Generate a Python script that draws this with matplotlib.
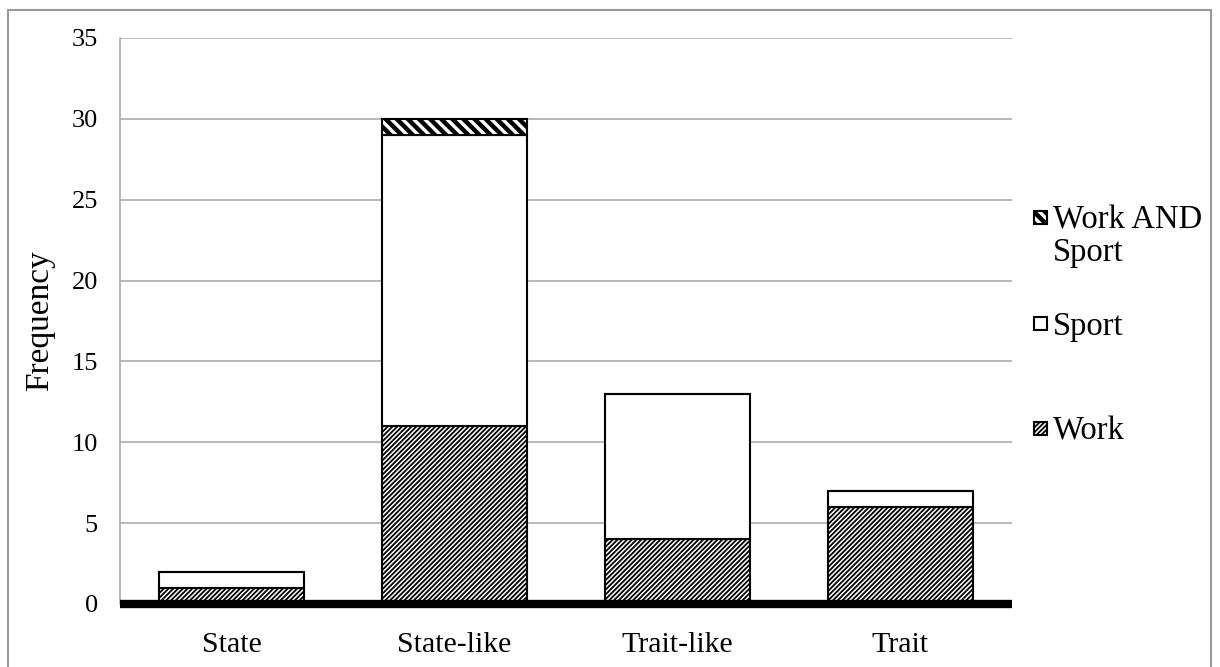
import numpy as np
import matplotlib.pyplot as plt
from matplotlib.patches import Rectangle
from matplotlib.lines import Line2D

categories = ['State', 'State-like', 'Trait-like', 'Trait']
work = [1, 11, 4, 6]
sport = [1, 18, 9, 1]
work_and_sport = [0, 1, 0, 0]
yticks = [0, 5, 10, 15, 20, 25, 30, 35]

plt.rcParams['font.family'] = ['Liberation Serif', 'DejaVu Serif']

fig = plt.figure(figsize=(12.2, 6.67), dpi=100)
ax = fig.add_axes([120 / 1220, 1 - 604 / 667, 892 / 1220, 566 / 667])

x = np.arange(len(categories))
w = 0.65
bottom2 = np.array(work) + np.array(sport)

work_hatch = '///////'
both_hatch = '\\\\\\'

with plt.rc_context({'hatch.linewidth': 1.3}):
    ax.bar(x, work, w, color='white', edgecolor='black', hatch=work_hatch,
           linewidth=1.5, zorder=3)
ax.bar(x, sport, w, bottom=work, color='white', edgecolor='black',
       linewidth=1.5, zorder=3)
with plt.rc_context({'hatch.linewidth': 3.2}):
    ax.bar(x, work_and_sport, w, bottom=bottom2, color='white',
           edgecolor='black', hatch=both_hatch, linewidth=1.5, zorder=3)

ax.set_xlim(-0.5, 3.5)
ax.set_ylim(0, 35)
ax.set_yticks(yticks)
for v in yticks[1:]:
    ax.axhline(v, color='#a6a6a6', lw=1.1, zorder=1)
ax.axhline(0, color='black', lw=6, zorder=4, clip_on=False,
           solid_capstyle='butt')

for s in ['top', 'right', 'bottom']:
    ax.spines[s].set_visible(False)
ax.spines['left'].set_color('#a6a6a6')
ax.spines['left'].set_linewidth(1.1)
ax.tick_params(axis='both', length=0)
ax.tick_params(axis='y', labelsize=19, pad=16)
ax.tick_params(axis='x', labelsize=21.5, pad=20)
ax.set_xticks(x)
ax.set_xticklabels(categories)
ax.set_ylabel('Frequency', fontsize=24, labelpad=12)

# legend drawn by hand on the right
legend_items = [('Work AND\nSport', both_hatch, 3.2, 217),
                ('Sport', '', 1.0, 323),
                ('Work', work_hatch, 1.3, 428)]
for label, hatch, hlw, yc in legend_items:
    with plt.rc_context({'hatch.linewidth': hlw}):
        r = Rectangle((1034 / 1220, 1 - (yc + 7) / 667), 13 / 1220, 13 / 667,
                      transform=fig.transFigure, facecolor='white',
                      edgecolor='black', hatch=hatch, lw=1.5)
        fig.patches.append(r)
    fig.text(1053 / 1220, 1 - (yc - 12) / 667, label, fontsize=23.5,
             va='top', ha='left', linespacing=1.1)

# outer frame
frame = dict(transform=fig.transFigure, color='#999999', lw=1.5)
fig.lines.append(Line2D([8 / 1220, 8 / 1220], [0, 1 - 10 / 667], **frame))
fig.lines.append(Line2D([8 / 1220, 1211 / 1220], [1 - 10 / 667, 1 - 10 / 667], **frame))
fig.lines.append(Line2D([1211 / 1220, 1211 / 1220], [0, 1 - 10 / 667], **frame))

fig.savefig('out.png', dpi=100)
